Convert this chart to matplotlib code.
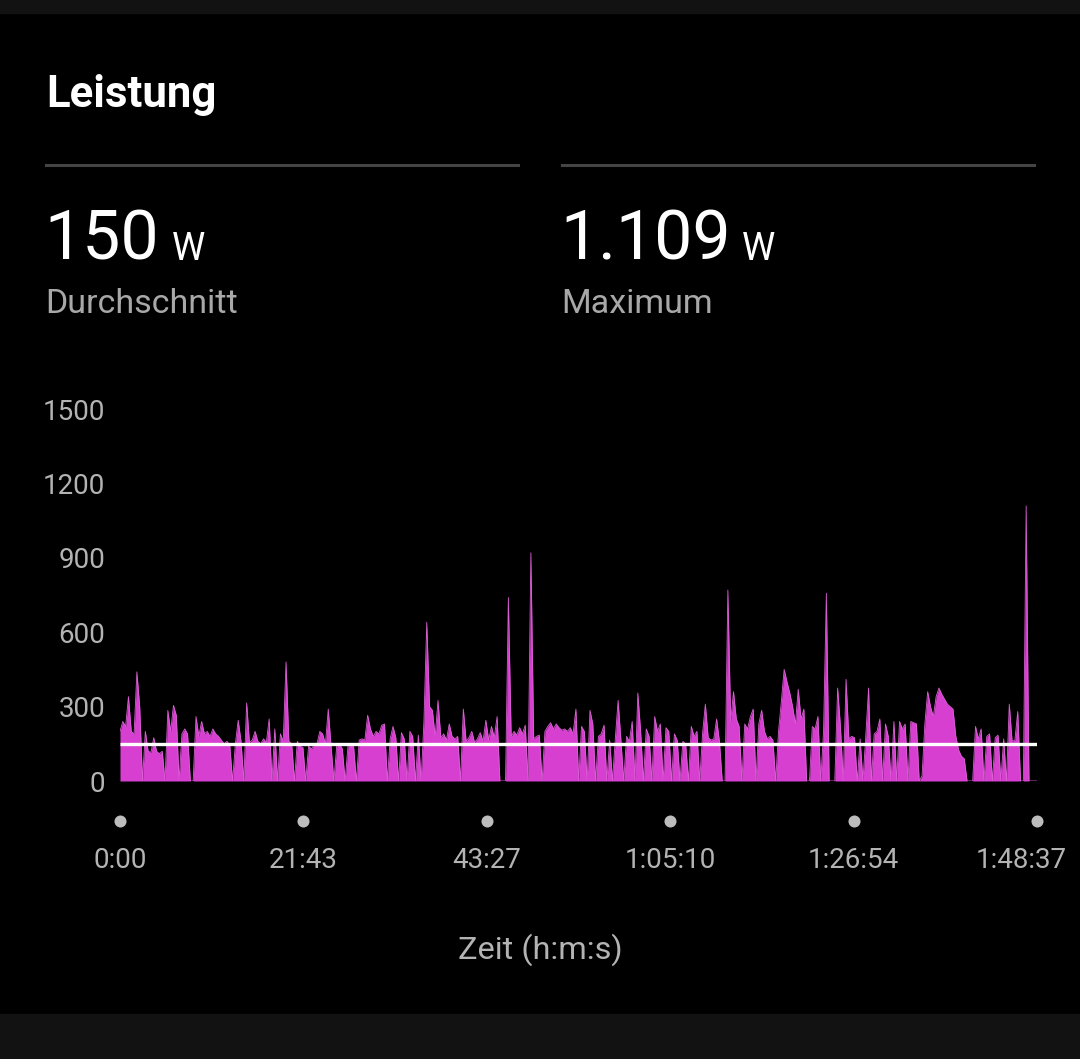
import matplotlib.pyplot as plt
import matplotlib.transforms as mtransforms
from matplotlib.patches import Rectangle
import numpy as np

plt.rcParams['font.family'] = ['Roboto', 'DejaVu Sans']

# power samples every 20 s (W)
power = [
    # 0:00 - 20:00
    200, 240, 220, 340, 200, 190, 440, 300, 0, 200,
    120, 115, 175, 120, 110, 120, 0, 285, 200, 305,
    265, 0, 190, 210, 190, 0, 0, 260, 180, 240,
    190, 200, 180, 210, 190, 180, 165, 150, 160, 145,
    0, 150, 245, 160, 0, 315, 155, 165, 200, 160,
    150, 170, 155, 250, 0, 210, 0, 190, 160, 480,
    # 20:00 - 40:00
    160, 150, 0, 160, 140, 135, 0, 140, 130, 145,
    150, 200, 190, 150, 290, 140, 0, 140, 150, 130,
    0, 140, 145, 140, 0, 165, 170, 165, 265, 210,
    180, 200, 190, 225, 230, 0, 170, 220, 175, 0,
    195, 170, 0, 200, 180, 0, 185, 0, 240, 640,
    300, 285, 180, 325, 175, 190, 165, 230, 180, 170,
    # 40:00 - 60:00
    180, 0, 290, 160, 175, 200, 155, 170, 195, 160,
    245, 165, 220, 175, 260, 0, 0, 0, 740, 180,
    200, 185, 215, 190, 225, 0, 920, 170, 180, 185,
    0, 200, 220, 235, 210, 230, 215, 205, 210, 200,
    215, 190, 290, 0, 220, 200, 0, 285, 230, 0,
    180, 190, 225, 0, 165, 0, 170, 325, 165, 0,
    # 60:00 - 80:00
    180, 160, 240, 0, 355, 200, 0, 210, 180, 0,
    260, 200, 230, 0, 215, 200, 0, 190, 165, 0,
    160, 150, 0, 220, 180, 200, 0, 190, 310, 175,
    165, 170, 250, 160, 0, 0, 770, 240, 360, 250,
    220, 0, 230, 210, 260, 290, 0, 230, 285, 200,
    170, 180, 165, 0, 200, 320, 450, 400, 355, 300,
    # 80:00 - 100:00
    230, 370, 250, 290, 0, 0, 220, 210, 260, 0,
    200, 757, 0, 0, 0, 375, 220, 0, 410, 170,
    180, 175, 0, 170, 0, 180, 375, 0, 190, 200,
    250, 0, 230, 180, 0, 240, 0, 240, 210, 230,
    0, 240, 235, 230, 0, 20, 230, 360, 300, 260,
    340, 375, 350, 330, 310, 300, 290, 180, 125, 100,
    # 100:00 - end
    90, 0, 0, 0, 220, 170, 210, 0, 180, 190,
    0, 175, 185, 0, 170, 0, 310, 160, 165, 280,
    0, 0, 1109, 0, 0, 0, 0,
]
sample_step = 20          # seconds
total_time = 6517         # 1:48:37
avg_power = 150
max_power = 1109

y_ticks = [0, 300, 600, 900, 1200, 1500]
x_ticks = [0, 1303, 2607, 3910, 5214, 6517]
x_labels = ['0:00', '21:43', '43:27', '1:05:10', '1:26:54', '1:48:37']

W, H = 1080, 1059
fig = plt.figure(figsize=(W / 100, H / 100), dpi=100, facecolor='black')

# dark status strips top and bottom
fig.patches.append(Rectangle((0, 1 - 13 / H), 1, 13 / H, transform=fig.transFigure,
                             color='#121212', zorder=0))
fig.patches.append(Rectangle((0, 0), 1, 45 / H, transform=fig.transFigure,
                             color='#121212', zorder=0))


def fx(px):
    return px / W


def fy(py):
    return 1 - py / H


# header
fig.text(fx(46), fy(107), 'Leistung', color='white', fontsize=31.5, fontweight='bold',
         va='baseline')
for x0, x1 in [(46, 518), (562, 1034)]:
    fig.add_artist(plt.Line2D([fx(x0), fx(x1)], [fy(165), fy(165)], color='#444444',
                              lw=2.2, transform=fig.transFigure))

fig.text(fx(44), fy(260), f'{avg_power}', color='white', fontsize=49, va='baseline')
fig.text(fx(172), fy(260), 'W', color='white', fontsize=27, va='baseline')
fig.text(fx(45), fy(313), 'Durchschnitt', color='#a8a8a8', fontsize=24.5, va='baseline')

fig.text(fx(560), fy(260), f'{max_power // 1000}.{max_power % 1000:03d}', color='white',
         fontsize=49, va='baseline')
fig.text(fx(742), fy(260), 'W', color='white', fontsize=27, va='baseline')
fig.text(fx(561), fy(313), 'Maximum', color='#a8a8a8', fontsize=24.5, va='baseline')

# chart
ax = fig.add_axes([fx(120), fy(781), fx(1037) - fx(120), (781 - 409) / H])
ax.set_facecolor('black')
t = np.minimum(np.arange(len(power)) * sample_step, total_time)
p = np.array(power)
ax.fill_between(t, p, color='#d63fd0', lw=0, zorder=2)
ax.plot(t, p, color='#d95fd3', lw=0.6, zorder=2)
ax.hlines(avg_power, 0, total_time, color='white', lw=2.4, zorder=3)

ax.set_xlim(0, total_time)
ax.set_ylim(0, 1500)
for s in ax.spines.values():
    s.set_visible(False)

ax.set_yticks(y_ticks)
ax.set_yticklabels([str(v) for v in y_ticks])
ax.tick_params(axis='y', length=0, pad=10.5, labelsize=20, labelcolor='#b3b3b3')

ax.set_xticks(x_ticks)
ax.set_xticklabels(x_labels)
ax.tick_params(axis='x', length=0, pad=47.5, labelsize=20, labelcolor='#b3b3b3')
last = ax.get_xticklabels()[-1]
last.set_horizontalalignment('right')
last.set_transform(last.get_transform() +
                   mtransforms.ScaledTranslation(30 / 100, 0, fig.dpi_scale_trans))

# tick dots below the plot
ax.scatter(x_ticks, [-40 * 1500 / 372] * len(x_ticks), s=75, color='#bdbdbd',
           clip_on=False, zorder=3, lw=0)

fig.text(fx(540), fy(950), 'Zeit (h:m:s)', color='#b3b3b3', fontsize=23.4,
         ha='center', va='center')

fig.savefig('out.png', dpi=100, facecolor='black')
